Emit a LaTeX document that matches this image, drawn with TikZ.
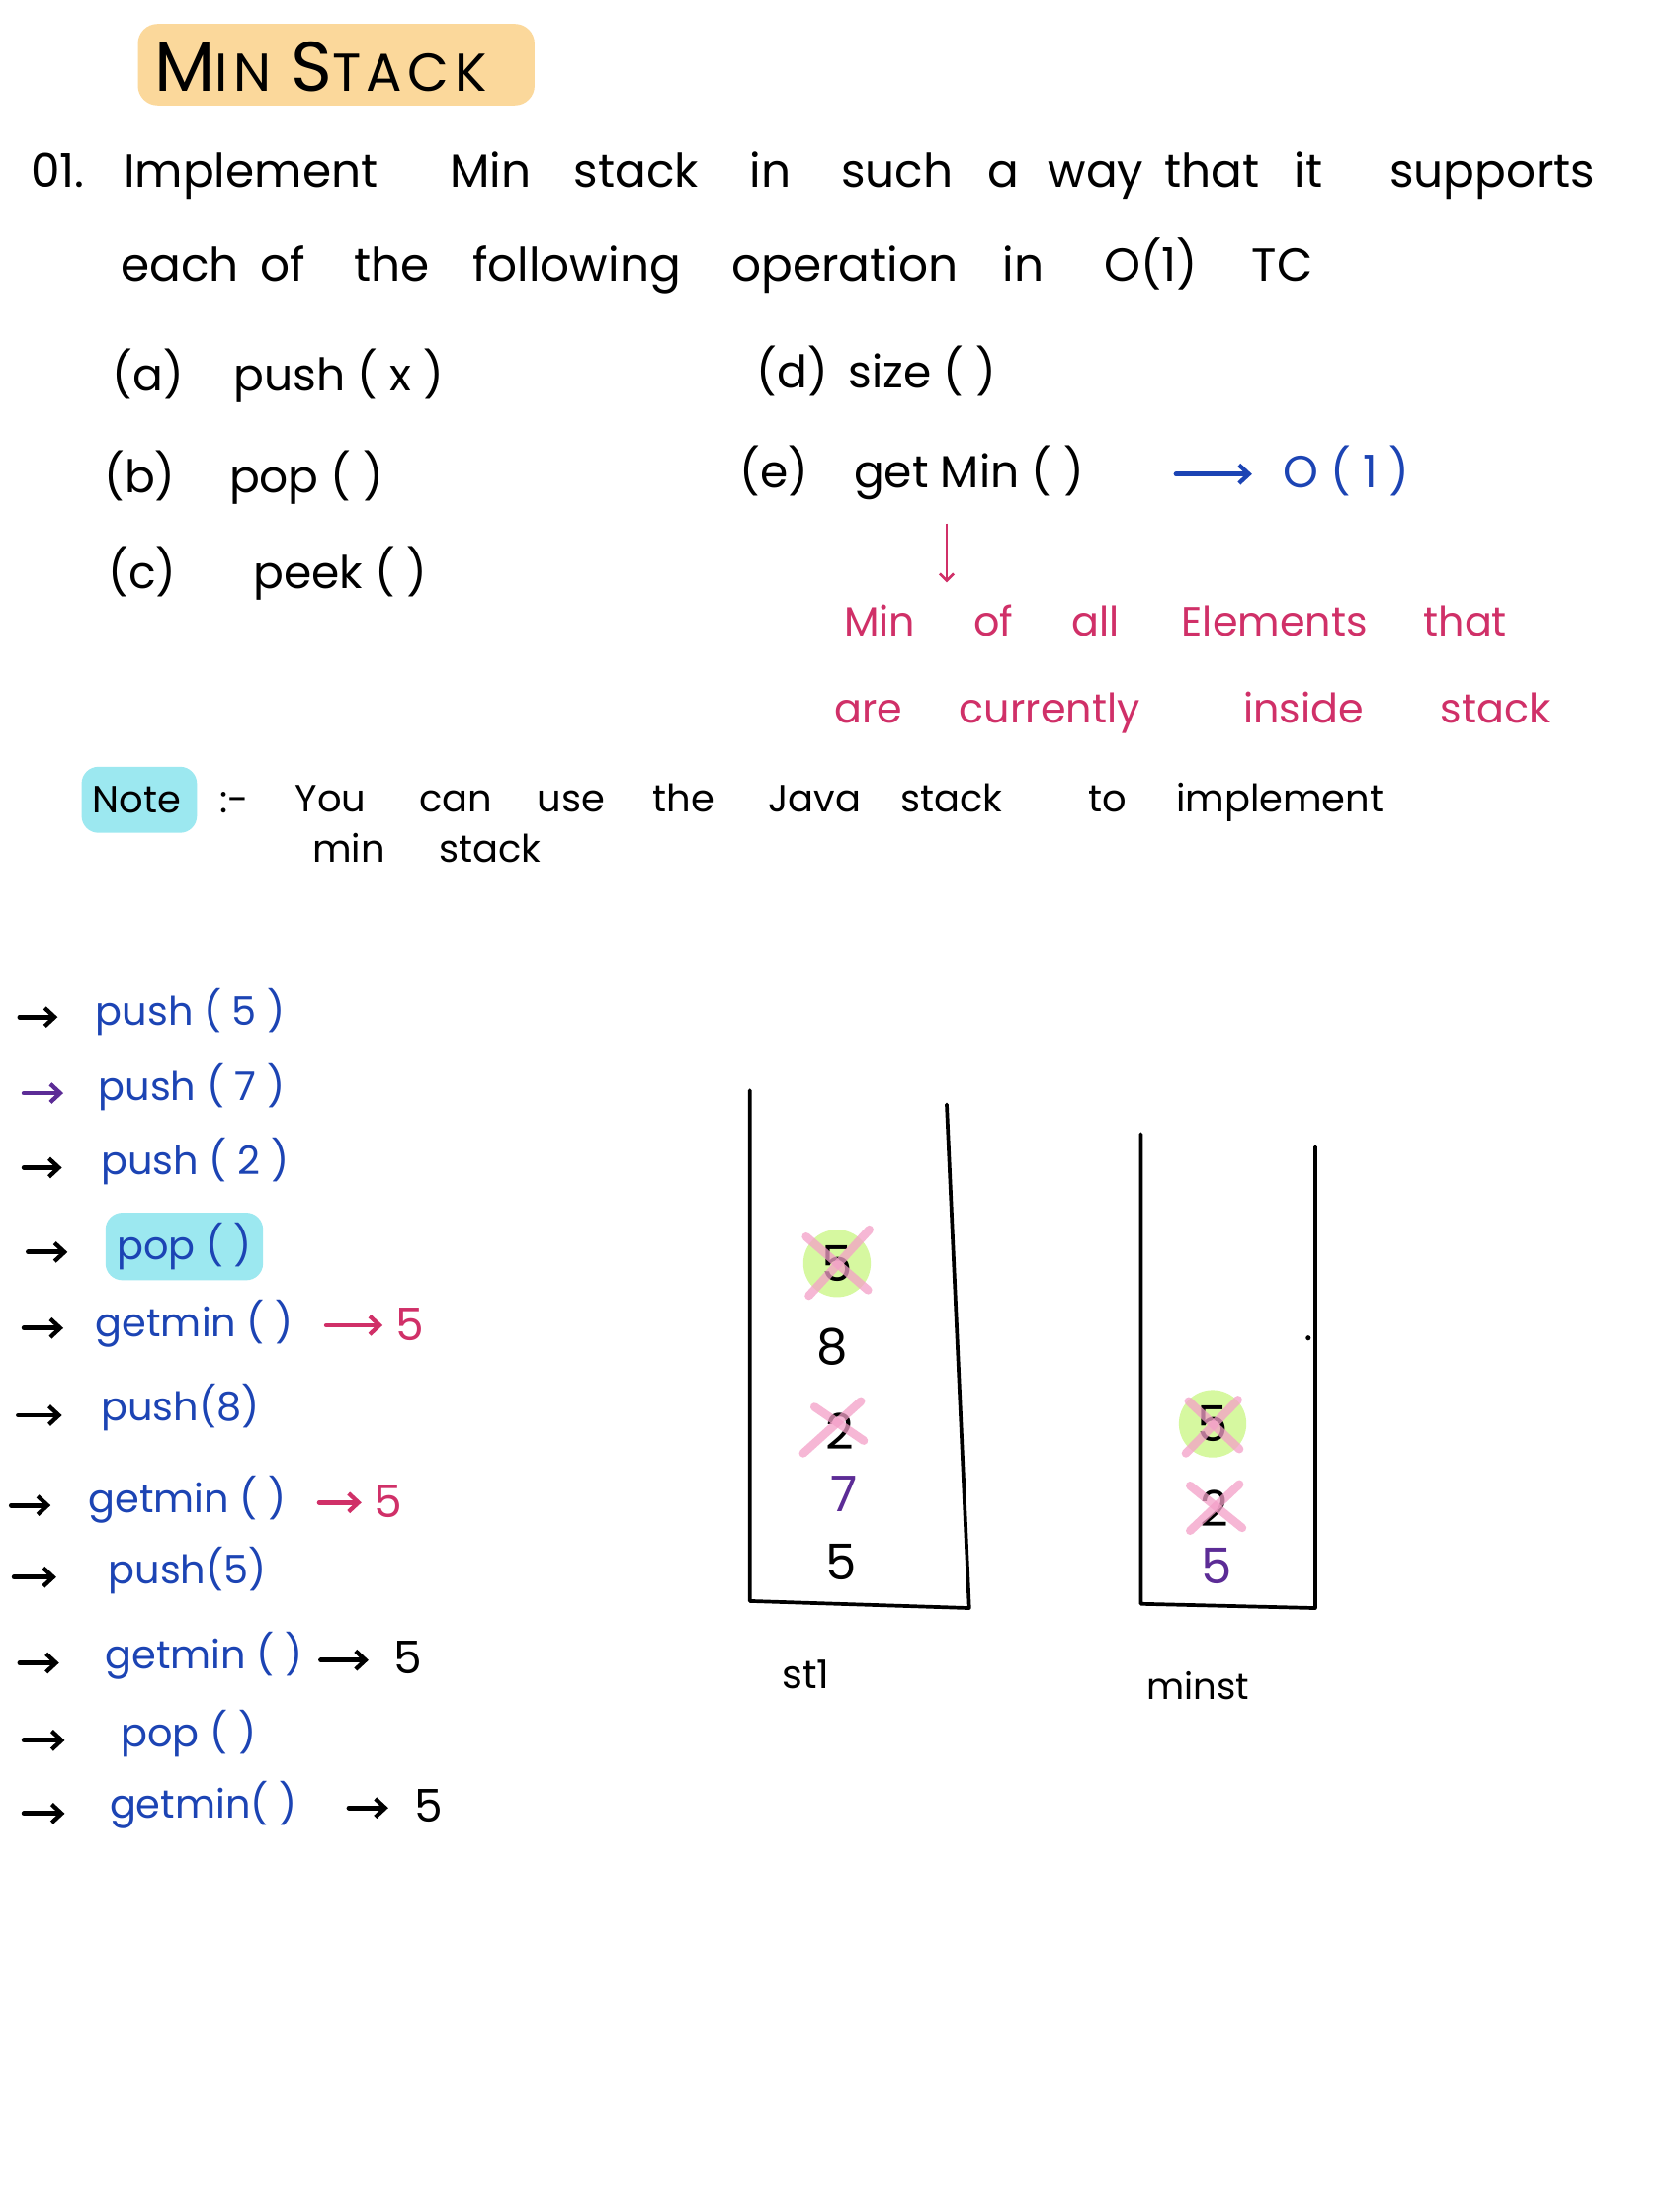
\documentclass[tikz,border=0pt]{standalone}
\usepackage{fontspec}
\setmainfont{Poppins}
\usetikzlibrary{arrows.meta}
\definecolor{hblue}{RGB}{28,68,180}
\definecolor{hpink}{RGB}{208,48,104}
\definecolor{hpurple}{RGB}{92,44,150}
\definecolor{horange}{RGB}{251,216,155}
\definecolor{hcyan}{RGB}{156,232,240}
\definecolor{hgreen}{RGB}{214,248,160}
\definecolor{hxpink}{RGB}{244,160,200}
\newcommand{\fs}[1]{\fontsize{#1}{#1}\selectfont}
\tikzset{
  wd/.style={anchor=base west, inner sep=0pt, outer sep=0pt},
  qtxt/.style={wd, font=\fs{33}},
  itxt/.style={wd, font=\fs{32}},
  ptxt/.style={wd, font=\fs{29}, text=hpink},
  ntxt/.style={wd, font=\fs{27}},
  otxt/.style={wd, font=\fs{28}, text=hblue},
  dig/.style={anchor=center, inner sep=0pt, font=\fs{35}},
  harrow/.style={line width=3.4pt, line cap=round, -{Straight Barb[length=7pt,width=13pt,line width=3pt]}},
  xmark/.style={line width=6pt, hxpink, opacity=0.75, line cap=round},
  wall/.style={line width=2.6pt, line cap=round, line join=round}
}
\begin{document}
\begin{tikzpicture}[x=1pt,y=-1pt]
\useasboundingbox (0,0) rectangle (1194,1568);
\fill[white] (0,0) rectangle (1194,1568);

% title
\fill[horange, rounded corners=14pt] (98,17) rectangle (380,75);
\node[wd] (title) at (110,65) {\addfontfeature{LetterSpace=10}\fs{50}M\fs{38}IN\hspace{14pt}\fs{50}S\fs{38}TACK};

% question
\node[qtxt] (q01) at (22,133) {01.};
\node[qtxt] (qw1) at (88,133) {Implement};
\node[qtxt] (qw2) at (320,133) {Min};
\node[qtxt] (qw3) at (408,133) {stack};
\node[qtxt] (qw4) at (533,133) {in};
\node[qtxt] (qw5) at (598,133) {such};
\node[qtxt] (qw6) at (702,133) {a};
\node[qtxt] (qw7) at (745,133) {way};
\node[qtxt] (qw8) at (828,133) {that};
\node[qtxt] (qw9) at (920,133) {it};
\node[qtxt] (qw10) at (988,133) {supports};

\node[qtxt] (qv1) at (86,200) {each};
\node[qtxt] (qv2) at (185,200) {of};
\node[qtxt] (qv3) at (252,200) {the};
\node[qtxt] (qv4) at (336,200) {following};
\node[qtxt] (qv5) at (520,200) {operation};
\node[qtxt] (qv6) at (713,200) {in};
\node[qtxt] (qv7) at (785,200) {O(1)};
\node[qtxt] (qv8) at (890,200) {TC};

% operations
\node[itxt] (ia) at (80,278) {(a)};
\node[itxt] (iapush) at (166,278) {push ( x )};
\node[itxt] (id) at (538,276) {(d)};
\node[itxt] (idsize) at (603,276) {size ( )};
\node[itxt] (ib) at (74,350) {(b)};
\node[itxt] (ibpop) at (163,350) {pop ( )};
\node[itxt] (ie) at (526,347) {(e)};
\node[itxt] (iemin) at (607,347) {get Min ( )};
\node[itxt] (ic) at (77,418) {(c)};
\node[itxt] (icpeek) at (180,418) {peek ( )};

\coordinate (eaS) at (836,337);
\coordinate (eaE) at (890,337);
\draw[harrow, hblue] (eaS) -- (eaE);
\node[wd, font=\fs{32}, text=hblue] (eO1) at (912,347) {O ( 1 )};

\coordinate (paS) at (673,372);
\coordinate (paE) at (673,414);
\draw[line width=1.8pt, hpink, -{Straight Barb[length=5pt,width=10pt,line width=1.8pt]}] (paS) -- (paE);

\node[ptxt] (p1) at (600,452) {Min};
\node[ptxt] (p2) at (692,452) {of};
\node[ptxt] (p3) at (762,452) {all};
\node[ptxt] (p4) at (840,452) {Elements};
\node[ptxt] (p5) at (1012,452) {that};
\node[ptxt] (p6) at (593,514) {are};
\node[ptxt] (p7) at (682,514) {currently};
\node[ptxt] (p8) at (884,514) {inside};
\node[ptxt] (p9) at (1024,514) {stack};

% note
\fill[hcyan, rounded corners=12pt] (58,545) rectangle (140,592);
\node[ntxt] (note) at (66,578) {Note};
\node[ntxt] (notec) at (156,578) {:-};
\node[ntxt] (n1) at (210,577) {You};
\node[ntxt] (n2) at (298,577) {can};
\node[ntxt] (n3) at (382,577) {use};
\node[ntxt] (n4) at (464,577) {the};
\node[ntxt] (n5) at (546,577) {Java};
\node[ntxt] (n6) at (640,577) {stack};
\node[ntxt] (n7) at (774,577) {to};
\node[ntxt] (n8) at (836,577) {implement};
\node[ntxt] (n9) at (222,613) {min};
\node[ntxt] (n10) at (312,613) {stack};

% operation list
\fill[hcyan, rounded corners=12pt] (75,862) rectangle (187,910);
\foreach \n/\xa/\xb/\y/\c in {1/14/41/723/black,2/17/45/777/hpurple,3/17/44/830/black,4/20/48/890/black,5/17/45/944/black,6/13/44/1006/black,7/8/36/1070/black,8/10/40/1121/black,9/14/42/1182/black,10/17/46/1237/black,11/17/46/1289/black}{
  \coordinate (la\n s) at (\xa,\y);
  \coordinate (la\n e) at (\xb,\y);
  \draw[harrow, \c] (la\n s) -- (la\n e);
}
\node[otxt] (o1) at (68,729) {push ( 5 )};
\node[otxt] (o2) at (70,782) {push ( 7 )};
\node[otxt] (o3) at (72,835) {push ( 2 )};
\node[otxt] (o4) at (83,895) {pop ( )};
\node[otxt] (o5) at (68,950) {getmin ( )};
\node[otxt] (o6) at (72,1010) {push(8)};
\node[otxt] (o7) at (63,1075) {getmin ( )};
\node[otxt] (o8) at (77,1126) {push(5)};
\node[otxt] (o9) at (75,1186) {getmin ( )};
\node[otxt] (o10) at (86,1242) {pop ( )};
\node[otxt] (o11) at (78,1292) {getmin( )};

\coordinate (r5s) at (232,942); \coordinate (r5e) at (272,942);
\draw[harrow, hpink] (r5s) -- (r5e);
\node[wd, font=\fs{32}, text=hpink] (v5) at (281,953) {5};
\coordinate (r7s) at (227,1068); \coordinate (r7e) at (257,1068);
\draw[harrow, hpink] (r7s) -- (r7e);
\node[wd, font=\fs{32}, text=hpink] (v7) at (266,1079) {5};
\coordinate (r9s) at (228,1180); \coordinate (r9e) at (262,1180);
\draw[harrow, black] (r9s) -- (r9e);
\node[wd, font=\fs{32}] (v9) at (280,1190) {5};
\coordinate (r11s) at (248,1285); \coordinate (r11e) at (276,1285);
\draw[harrow, black] (r11s) -- (r11e);
\node[wd, font=\fs{32}] (v11) at (295,1295) {5};

% stack st1
\coordinate (s1tl) at (533,775); \coordinate (s1bl) at (533,1138);
\coordinate (s1br) at (689,1143); \coordinate (s1tr) at (673,785);
\draw[wall] (s1tl) -- (s1bl) -- (s1br) -- (s1tr);
\fill[hgreen] (595,898) circle (24);
\node[dig] (s1a) at (595,898) {5};
\node[dig] (s1b) at (592,957) {8};
\node[dig] (s1c) at (597,1017) {2};
\node[dig, text=hpurple] (s1d) at (600,1062) {7};
\node[dig] (s1e) at (598,1110) {5};
\draw[xmark] (573,879) -- (617,917);
\draw[xmark] (618,874) -- (575,921);
\draw[xmark] (579,1000) -- (614,1024);
\draw[xmark] (612,996) -- (571,1033);
\node[wd, font=\fs{28}] (lst1) at (556,1200) {st1};

% stack minst
\coordinate (s2tl) at (811,806); \coordinate (s2bl) at (811,1140);
\coordinate (s2br) at (935,1143); \coordinate (s2tr) at (935,815);
\draw[wall] (s2tl) -- (s2bl) -- (s2br) -- (s2tr);
\fill (930,951) circle (1.8);
\fill[hgreen] (862,1012) circle (24);
\node[dig] (s2a) at (862,1012) {5};
\node[dig] (s2b) at (863,1072) {2};
\node[dig, text=hpurple] (s2c) at (865,1113) {5};
\draw[xmark] (845,996) -- (881,1030);
\draw[xmark] (880,995) -- (843,1033);
\draw[xmark] (846,1056) -- (883,1086);
\draw[xmark] (881,1055) -- (846,1088);
\node[wd, font=\fs{26}] (lmin) at (815,1208) {minst};
\end{tikzpicture}
\end{document}
